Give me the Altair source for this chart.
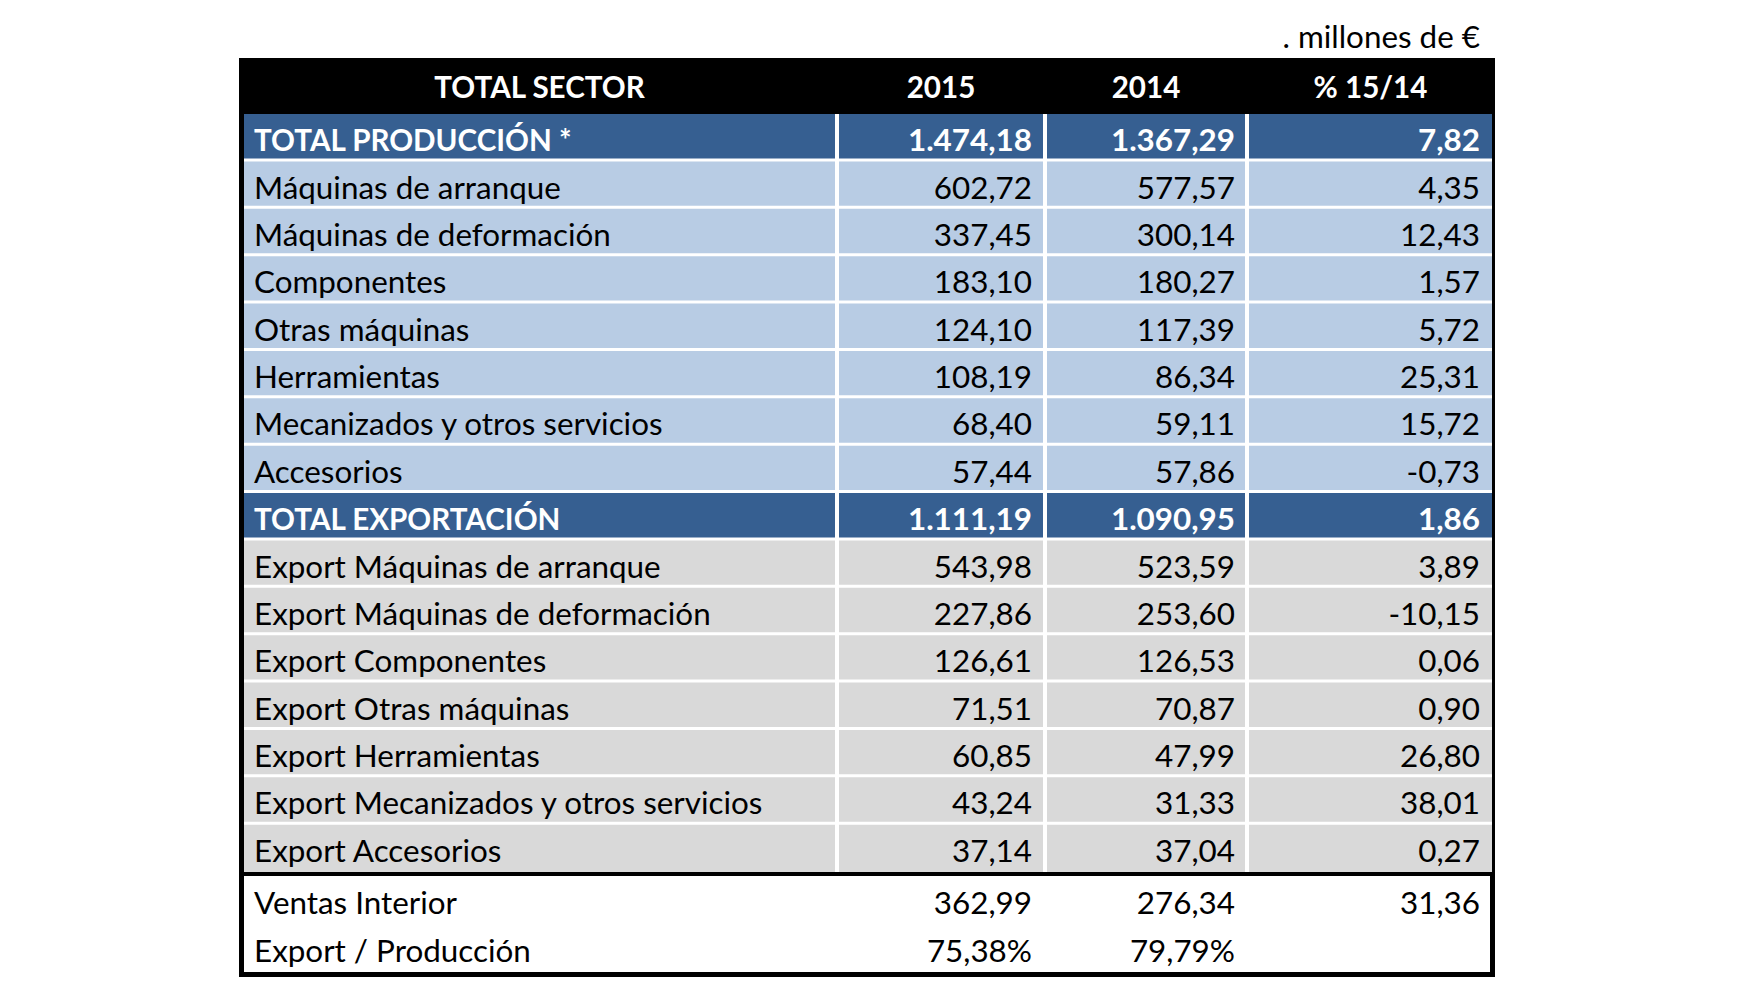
import altair as alt
import pandas as pd

# ---------------- data ----------------
labels = [
    "TOTAL PRODUCCIÓN *", "Máquinas de arranque", "Máquinas de deformación", "Componentes",
    "Otras máquinas", "Herramientas", "Mecanizados y otros servicios", "Accesorios",
    "TOTAL EXPORTACIÓN", "Export Máquinas de arranque", "Export Máquinas de deformación",
    "Export Componentes", "Export Otras máquinas", "Export Herramientas",
    "Export Mecanizados y otros servicios", "Export Accesorios",
    "Ventas Interior", "Export / Producción",
]
kinds = ["total"] + ["prod"] * 7 + ["total"] + ["export"] * 7 + ["foot", "ratio"]
v2015 = [1474.18, 602.72, 337.45, 183.10, 124.10, 108.19, 68.40, 57.44,
         1111.19, 543.98, 227.86, 126.61, 71.51, 60.85, 43.24, 37.14,
         362.99, 75.38]
v2014 = [1367.29, 577.57, 300.14, 180.27, 117.39, 86.34, 59.11, 57.86,
         1090.95, 523.59, 253.60, 126.53, 70.87, 47.99, 31.33, 37.04,
         276.34, 79.79]
pct = [7.82, 4.35, 12.43, 1.57, 5.72, 25.31, 15.72, -0.73,
       1.86, 3.89, -10.15, 0.06, 0.90, 26.80, 38.01, 0.27,
       31.36, None]
headers = ["TOTAL SECTOR", "2015", "2014", "% 15/14"]
unit_note = ". millones de €"

# ---------------- layout (pixels) ----------------
W, H = 1734, 984
OX, OY = 8, 8
T_LEFT, T_RIGHT, T_TOP, T_BOTTOM = 239, 1495, 58, 977
IN_LEFT, IN_RIGHT = 244, 1492
HEAD_BOTTOM = 114
DATA_BOTTOM = 872
FOOT_TOP, FOOT_BOTTOM = 876, 972
COL_EDGES = [(244, 835), (839, 1043), (1047, 1245), (1249, 1492)]
NUM_RIGHT = [1032, 1235, 1480]
LABEL_X = 254
GAP = 3
FONT = "Lato"
FS = 31.4
FS_BOLD_LABEL = 29.6
DY = 4.5

COLORS = {"total": "#365f91", "prod": "#b8cce4", "export": "#d9d9d9"}


def es(v, dec=2):
    s = f"{v:,.{dec}f}"
    return s.replace(",", "X").replace(".", ",").replace("X", ".")


n_data = 16
row_h = (DATA_BOTTOM - HEAD_BOTTOM) / n_data
foot_h = (FOOT_BOTTOM - FOOT_TOP) / 2

# background blocks
blocks = pd.DataFrame([
    {"x": T_LEFT, "x2": T_RIGHT, "y": T_TOP, "y2": T_BOTTOM, "c": "#000000"},
    {"x": IN_LEFT, "x2": IN_RIGHT, "y": HEAD_BOTTOM, "y2": DATA_BOTTOM, "c": "#ffffff"},
    {"x": IN_LEFT, "x2": T_RIGHT - 5, "y": FOOT_TOP, "y2": FOOT_BOTTOM, "c": "#ffffff"},
])

cells = []
rows = []
for i in range(len(labels)):
    k = kinds[i]
    if i < n_data:
        top = HEAD_BOTTOM + i * row_h
        bot = top + row_h
        cy = (top + bot) / 2
        cb = bot if i == n_data - 1 else bot - GAP
        for (l, r) in COL_EDGES:
            cells.append({"x": l, "x2": r, "y": top, "y2": cb, "c": COLORS[k]})
    else:
        j = i - n_data
        top = FOOT_TOP + j * foot_h
        cy = top + foot_h / 2
    if k == "ratio":
        t1, t2, t3 = es(v2015[i]) + "%", es(v2014[i]) + "%", ""
    else:
        t1, t2 = es(v2015[i]), es(v2014[i])
        t3 = es(pct[i]) if pct[i] is not None else ""
    rows.append({"label": labels[i], "kind": k, "y": cy, "t1": t1, "t2": t2, "t3": t3,
                 "tc": "#ffffff" if k == "total" else "#000000"})

cells = pd.DataFrame(cells)
rows = pd.DataFrame(rows)

# flatten numbers into long form
num = []
for _, r in rows.iterrows():
    for j, col in enumerate(["t1", "t2", "t3"]):
        num.append({"x": NUM_RIGHT[j], "y": r["y"], "t": r[col], "tc": r["tc"],
                    "bold": r["kind"] == "total"})
num = pd.DataFrame(num)

head = pd.DataFrame({
    "t": headers,
    "x": [(l + r) / 2 for (l, r) in COL_EDGES],
    "y": [(T_TOP + HEAD_BOTTOM) / 2] * 4,
})
note = pd.DataFrame({"t": [unit_note], "x": [NUM_RIGHT[2]], "y": [37]})

xs = alt.Scale(domain=[OX, OX + W], range=[0, W])
ys = alt.Scale(domain=[OY, OY + H], range=[0, H])


def rect_layer(df):
    return alt.Chart(df).mark_rect().encode(
        x=alt.X("x:Q", scale=xs, axis=None), x2="x2:Q",
        y=alt.Y("y:Q", scale=ys, axis=None), y2="y2:Q",
        color=alt.Color("c:N", scale=None),
    )


def text_layer(df, align, bold, size, dy, color_field=None, color=None, xfield="x", tfield="t"):
    m = alt.Chart(df).mark_text(align=align, baseline="middle", font=FONT, fontSize=size,
                                dy=dy, fontWeight="bold" if bold else "normal")
    enc = dict(x=alt.X(f"{xfield}:Q", scale=xs, axis=None),
               y=alt.Y("y:Q", scale=ys, axis=None),
               text=alt.Text(f"{tfield}:N"))
    if color_field:
        enc["color"] = alt.Color(f"{color_field}:N", scale=None)
    else:
        enc["color"] = alt.value(color)
    return m.encode(**enc)


rows["lx"] = LABEL_X
layers = [
    rect_layer(blocks),
    rect_layer(cells),
    text_layer(head, "center", True, FS_BOLD_LABEL, 3, color="#ffffff"),
    text_layer(note, "right", False, FS, 2, color="#000000"),
    text_layer(rows[rows.kind == "total"], "left", True, FS_BOLD_LABEL, DY,
               color_field="tc", xfield="lx", tfield="label"),
    text_layer(rows[rows.kind != "total"], "left", False, FS, DY,
               color_field="tc", xfield="lx", tfield="label"),
    text_layer(num[num.bold], "right", True, FS, DY, color_field="tc"),
    text_layer(num[~num.bold], "right", False, FS, DY, color_field="tc"),
]

chart = alt.layer(*layers).properties(
    width=W, height=H, padding=0, autosize=alt.AutoSizeParams(type="none"),
    background="#ffffff",
).configure_view(stroke=None)

chart.save("out.html", embed_options={"renderer": "svg", "actions": False})
